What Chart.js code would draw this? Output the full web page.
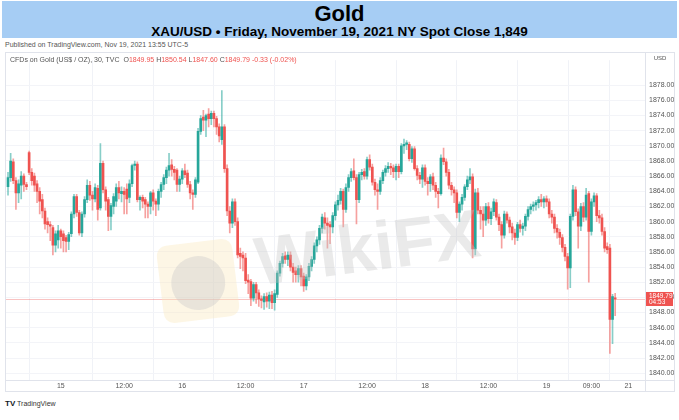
<!DOCTYPE html>
<html><head><meta charset="utf-8">
<script src="https://cdn.jsdelivr.net/npm/chart.js@4.4.0/dist/chart.umd.min.js"></script>
<style>
html,body{margin:0;padding:0;background:#fff;width:679px;height:420px;overflow:hidden;font-family:"Liberation Sans Narrow","Liberation Sans",Arial,sans-serif;}
#hdr{position:absolute;left:2px;top:1px;width:675px;height:37px;background:#a6cdf4;}
#t1{position:absolute;left:0;width:100%;top:1px;text-align:center;font-weight:bold;font-size:22px;line-height:24px;color:#000;}
#t2{position:absolute;left:0;width:100%;top:23px;text-align:center;font-weight:bold;font-size:13.5px;line-height:15px;color:#000;}
#pub{position:absolute;left:5px;top:41px;font-size:7px;color:#555;white-space:nowrap;}
#leg{position:absolute;left:10px;top:56px;font-size:7px;color:#555;white-space:nowrap;z-index:2;}
#leg .r{color:#ef5350}
#wrap{position:absolute;left:5px;top:52px;width:670px;height:340px;}
#tv{position:absolute;left:5px;top:399px;font-size:7px;color:#333;white-space:nowrap;}
#tv b{font-size:8px;color:#131722;font-family:"Liberation Sans",Arial,sans-serif;}
</style></head>
<body>
<div id="hdr"><div id="t1">Gold</div><div id="t2">XAU/USD • Friday, November 19, 2021 NY Spot Close 1,849</div></div>
<div id="pub">Published on TradingView.com, Nov 19, 2021 13:55 UTC-5</div>
<div id="wrap"><canvas id="c" width="670" height="340"></canvas></div>
<div id="leg">CFDs on Gold (US$ / OZ), 30, TVC &nbsp;O<span class="r">1849.95</span> H<span class="r">1850.54</span> L<span class="r">1847.60</span> C<span class="r">1849.79</span> <span class="r">-0.33 (-0.02%)</span></div>
<div id="tv"><b>TV</b> TradingView</div>
<script>
const opens = [
1864.6,1865.8,1867.9,1865.4,1863.8,1864.8,1866.0,1864.9,1869.1,1866.5,
1866.0,1865.0,1864.0,1862.9,1861.4,1860.0,1859.6,1859.2,1856.9,1857.6,
1858.8,1858.4,1857.9,1857.4,1858.4,1861.0,1863.3,1861.2,1858.5,1861.0,
1862.9,1864.8,1863.5,1863.0,1864.4,1861.8,1867.7,1864.2,1862.9,1860.7,
1862.0,1862.7,1864.5,1863.7,1864.0,1864.3,1863.2,1865.0,1867.4,1867.6,
1862.9,1863.2,1862.9,1862.3,1862.0,1863.8,1862.7,1862.3,1864.0,1864.9,
1865.8,1866.8,1867.5,1866.9,1866.8,1864.9,1865.6,1866.7,1866.4,1864.9,
1863.8,1863.6,1865.2,1871.9,1873.8,1873.4,1874.2,1873.6,1874.3,1873.6,
1872.5,1870.8,1872.5,1867.0,1861.4,1859.8,1862.6,1860.0,1855.8,1855.6,
1855.2,1852.3,1852.1,1849.9,1851.7,1850.6,1849.8,1849.4,1850.1,1849.5,
1850.3,1849.3,1850.4,1853.2,1854.5,1855.5,1855.0,1855.6,1854.0,1853.5,
1853.0,1853.8,1852.8,1851.5,1852.7,1854.1,1855.0,1856.8,1857.6,1859.1,
1860.5,1859.8,1859.6,1859.3,1860.8,1862.2,1862.8,1864.0,1861.6,1864.5,
1865.8,1866.7,1865.8,1862.9,1866.2,1866.6,1866.0,1868.2,1867.2,1865.2,
1864.2,1864.0,1865.4,1866.5,1867.0,1867.3,1867.1,1866.6,1867.3,1866.6,
1870.0,1870.2,1870.2,1868.3,1869.6,1867.0,1866.1,1865.6,1867.1,1865.3,
1865.0,1865.9,1864.8,1864.0,1863.7,1868.4,1867.9,1866.5,1864.8,1864.2,
1863.8,1861.2,1862.3,1863.2,1864.6,1865.5,1865.9,1856.4,1863.8,1861.5,
1861.0,1860.2,1862.0,1860.4,1861.3,1862.5,1860.6,1859.6,1858.2,1861.0,
1860.2,1859.3,1858.5,1857.9,1859.6,1859.1,1859.4,1860.7,1861.6,1862.0,
1862.2,1862.5,1862.9,1862.6,1863.0,1862.6,1861.0,1860.6,1859.1,1858.6,
1857.9,1856.6,1855.4,1853.9,1860.7,1864.2,1861.3,1859.4,1862.0,1860.6,
1863.7,1858.7,1862.6,1863.4,1860.8,1860.5,1858.7,1856.7,1856.5,1847.1,1849.95];
const highs = [
1866.5,1869.0,1868.3,1865.8,1865.5,1866.6,1866.3,1865.2,1869.3,1867.0,
1866.4,1865.4,1864.5,1863.6,1861.8,1860.5,1860.0,1859.5,1858.8,1859.5,
1859.0,1858.8,1858.2,1858.6,1861.3,1863.6,1863.6,1861.5,1861.3,1863.3,
1865.5,1865.3,1864.0,1865.0,1864.8,1870.3,1868.0,1864.6,1863.2,1862.4,
1863.7,1865.0,1865.3,1864.6,1864.5,1865.0,1865.5,1867.6,1868.0,1867.9,
1863.4,1863.5,1863.2,1862.6,1864.0,1864.2,1863.0,1864.3,1865.2,1866.2,
1867.2,1869.0,1868.2,1867.3,1867.0,1866.0,1867.0,1867.6,1866.8,1865.3,
1864.2,1865.8,1872.3,1874.0,1874.7,1874.2,1874.9,1874.6,1874.6,1873.9,
1872.9,1877.3,1872.8,1867.5,1862.0,1863.0,1863.0,1860.5,1856.5,1856.0,
1855.8,1853.0,1852.4,1852.0,1852.0,1851.0,1850.2,1850.5,1850.6,1850.7,
1850.8,1851.0,1853.5,1854.8,1855.8,1856.0,1856.0,1856.0,1854.5,1854.0,
1854.2,1854.2,1853.2,1853.0,1854.5,1855.4,1857.2,1858.0,1859.5,1861.0,
1861.2,1860.5,1860.0,1861.2,1862.6,1863.5,1864.4,1864.3,1865.0,1866.2,
1867.0,1868.3,1866.2,1866.5,1866.9,1867.0,1868.5,1868.8,1867.6,1865.6,
1865.0,1865.8,1866.8,1867.4,1867.8,1867.7,1867.5,1867.6,1867.6,1870.3,
1870.9,1870.7,1870.5,1869.9,1869.9,1867.4,1866.5,1867.5,1867.5,1865.8,
1866.2,1866.4,1865.2,1864.4,1868.8,1869.7,1868.3,1866.9,1865.2,1864.6,
1864.2,1862.6,1863.6,1864.9,1866.0,1867.0,1866.3,1864.3,1864.4,1862.0,
1862.0,1862.4,1862.5,1861.8,1863.0,1862.9,1861.0,1860.0,1861.4,1861.3,
1860.6,1859.8,1859.0,1859.9,1860.2,1859.8,1861.0,1862.0,1862.3,1862.6,
1862.8,1863.3,1863.6,1863.3,1863.4,1863.0,1861.5,1861.0,1859.6,1859.0,
1858.3,1857.0,1855.8,1861.0,1864.8,1864.6,1861.7,1862.4,1862.5,1864.4,
1864.0,1863.0,1863.8,1863.7,1861.5,1861.0,1859.2,1857.2,1857.0,1850.4,1850.54];
const lows = [
1863.5,1865.3,1865.0,1861.6,1862.5,1863.0,1864.0,1864.2,1866.2,1864.8,
1864.0,1862.5,1861.0,1860.5,1859.0,1858.5,1857.5,1855.6,1856.0,1856.5,
1856.5,1856.0,1856.0,1856.3,1858.0,1860.5,1860.7,1858.2,1858.0,1860.6,
1862.5,1862.8,1861.5,1862.6,1860.2,1861.5,1863.8,1861.5,1858.8,1858.9,
1861.0,1862.0,1863.0,1862.6,1861.0,1861.0,1862.5,1864.6,1866.8,1862.6,
1861.5,1861.8,1860.5,1860.5,1861.0,1861.5,1860.8,1861.5,1863.2,1864.2,
1865.0,1866.0,1866.0,1865.5,1864.0,1864.0,1865.0,1865.8,1864.5,1863.0,
1861.6,1863.2,1865.0,1871.5,1872.0,1871.2,1872.5,1872.8,1872.5,1871.5,
1870.5,1870.2,1866.5,1860.8,1858.5,1859.2,1859.5,1855.2,1853.8,1853.5,
1851.8,1850.5,1848.9,1849.5,1849.2,1848.8,1848.6,1848.4,1848.7,1848.5,
1848.5,1848.3,1850.0,1852.8,1854.0,1854.5,1854.2,1853.5,1852.0,1852.0,
1852.0,1851.5,1850.8,1851.0,1852.2,1853.5,1854.5,1856.0,1857.0,1858.5,
1859.0,1856.5,1857.1,1858.5,1860.2,1861.5,1862.3,1859.3,1861.2,1864.0,
1865.3,1865.5,1859.7,1862.5,1865.5,1865.6,1865.6,1866.8,1864.8,1863.5,
1861.6,1863.6,1865.0,1866.0,1866.5,1866.2,1865.8,1865.5,1865.8,1866.3,
1869.0,1869.5,1868.0,1867.8,1866.8,1865.5,1865.0,1864.5,1864.8,1863.5,
1864.0,1864.2,1863.2,1861.8,1863.5,1867.5,1866.0,1864.3,1863.5,1862.5,
1860.5,1860.0,1861.5,1862.8,1864.2,1865.0,1855.2,1855.6,1861.0,1859.0,
1858.0,1859.5,1859.8,1859.6,1860.8,1860.2,1858.8,1856.5,1857.8,1859.8,
1858.5,1857.6,1857.0,1857.5,1858.6,1858.2,1858.8,1860.2,1861.0,1861.4,
1861.5,1861.8,1862.0,1861.8,1862.0,1860.5,1859.8,1858.5,1857.8,1857.0,
1856.0,1854.8,1851.1,1851.3,1860.2,1860.8,1856.5,1858.8,1860.0,1860.2,
1852.0,1858.2,1862.0,1860.0,1859.8,1858.2,1856.0,1855.8,1842.6,1843.9,1847.60];
const closes = [
1865.8,1868.0,1865.4,1863.8,1865.0,1866.0,1864.9,1864.6,1866.5,1865.4,
1864.8,1864.0,1862.7,1861.4,1859.7,1859.6,1859.4,1856.9,1858.4,1858.8,
1858.0,1857.5,1857.4,1858.3,1861.0,1863.3,1861.2,1858.5,1861.0,1862.9,
1864.8,1863.5,1863.0,1864.5,1861.6,1867.7,1864.2,1862.7,1860.7,1862.1,
1863.3,1864.5,1863.8,1864.0,1863.6,1863.0,1865.0,1867.4,1867.6,1862.9,
1863.2,1862.7,1862.3,1862.0,1863.8,1862.7,1862.3,1864.0,1864.9,1865.8,
1866.8,1867.4,1866.9,1866.5,1864.9,1865.6,1866.7,1866.2,1864.9,1863.8,
1863.6,1865.5,1871.9,1873.6,1873.4,1874.0,1873.6,1874.3,1873.6,1872.5,
1871.3,1872.5,1867.0,1861.4,1859.8,1862.6,1860.0,1855.6,1855.4,1855.2,
1852.2,1852.0,1849.9,1851.7,1850.6,1849.8,1849.6,1850.1,1849.5,1850.3,
1849.3,1850.5,1853.2,1854.5,1855.4,1855.0,1855.6,1854.0,1853.3,1853.0,
1853.8,1852.7,1851.5,1852.7,1854.1,1855.0,1856.8,1857.6,1859.1,1860.6,
1859.8,1859.5,1859.3,1860.8,1862.2,1862.8,1864.0,1861.6,1864.5,1865.8,
1866.6,1865.8,1862.9,1866.2,1866.5,1866.0,1868.2,1867.2,1865.2,1864.2,
1864.0,1865.4,1866.5,1867.0,1867.3,1867.1,1866.6,1867.3,1866.6,1870.0,
1870.2,1870.4,1868.3,1869.6,1867.0,1866.1,1865.6,1867.1,1865.3,1865.0,
1865.9,1864.8,1864.0,1863.7,1868.4,1867.9,1866.5,1864.8,1864.2,1863.8,
1861.2,1862.3,1863.2,1864.6,1865.5,1865.9,1856.4,1863.8,1861.5,1861.0,
1860.2,1862.0,1860.4,1861.3,1862.6,1860.6,1859.6,1858.2,1861.0,1860.2,
1859.3,1858.5,1857.9,1859.6,1859.1,1859.4,1860.7,1861.6,1862.0,1862.2,
1862.5,1862.9,1862.6,1863.0,1862.6,1861.0,1860.6,1859.1,1858.6,1857.9,
1856.6,1855.4,1853.9,1860.7,1864.2,1861.3,1859.4,1862.0,1860.6,1863.5,
1858.7,1862.6,1863.4,1860.8,1860.5,1858.7,1856.5,1856.3,1847.1,1850.1,1849.79];

const timeTickIdx    = [20, 44, 66, 90, 112, 136, 158, 182, 204, 221, 235];
const timeTickLabels = ['15','12:00','16','12:00','17','12:00','18','12:00','19','09:00','21'];
const priceTicks = [1840,1842,1844,1846,1848,1850,1852,1854,1856,1858,1860,1862,1864,1866,1868,1870,1872,1874,1876,1878];
const lastPrice = 1849.79;
const lastPriceLabel = '1849.79';
const countdownLabel = '04:53';

const UP = '#26a69a', DN = '#ef5350';
const UP_WICK = 'rgba(38,166,154,0.55)', DN_WICK = 'rgba(239,83,80,0.55)';
const FONT = '"Liberation Sans Narrow","Liberation Sans",Arial,sans-serif';
const idx = closes.map((_, i) => i);
const isUp = idx.map(i => closes[i] >= opens[i]);
const bodyColors = isUp.map(u => u ? UP : DN);
const wickColors = isUp.map(u => u ? UP_WICK : DN_WICK);

const overlay = {
  id: 'overlay',
  beforeDatasetsDraw(chart) {
    const {ctx, chartArea: a, scales: {y}} = chart;
    const py = Math.round(y.getPixelForValue(lastPrice)) + 0.5;
    ctx.save();
    ctx.strokeStyle = 'rgba(239,83,80,0.35)';
    ctx.lineWidth = 1;
    ctx.beginPath(); ctx.moveTo(a.left, py); ctx.lineTo(a.right, py); ctx.stroke();
    ctx.restore();
  },
  afterDatasetsDraw(chart) {
    const {ctx} = chart;
    ctx.save();
    ctx.translate(193, 229);
    ctx.rotate(-0.12);
    ctx.fillStyle = 'rgba(250,232,190,0.40)';
    const w = 76, h = 78, r = 12;
    ctx.beginPath();
    ctx.moveTo(-w/2 + r, -h/2); ctx.lineTo(w/2 - r, -h/2); ctx.quadraticCurveTo(w/2, -h/2, w/2, -h/2 + r);
    ctx.lineTo(w/2, h/2 - r); ctx.quadraticCurveTo(w/2, h/2, w/2 - r, h/2);
    ctx.lineTo(-w/2 + r, h/2); ctx.quadraticCurveTo(-w/2, h/2, -w/2, h/2 - r);
    ctx.lineTo(-w/2, -h/2 + r); ctx.quadraticCurveTo(-w/2, -h/2, -w/2 + r, -h/2);
    ctx.fill();
    ctx.fillStyle = 'rgba(200,200,200,0.38)';
    ctx.beginPath(); ctx.arc(0, 2, 27, 0, Math.PI * 2); ctx.fill();
    ctx.restore();
    ctx.save();
    ctx.translate(363, 200);
    ctx.rotate(-0.13);
    ctx.font = 'bold 68px "Liberation Sans",Arial,sans-serif';
    ctx.fillStyle = 'rgba(195,195,195,0.35)';
    ctx.textAlign = 'center'; ctx.textBaseline = 'middle';
    ctx.fillText('WikiFX', 0, 0);
    ctx.restore();
  },
  afterDraw(chart) {
    const {ctx, chartArea: a, scales: {y}, width, height} = chart;
    ctx.save();
    ctx.strokeStyle = '#e0e3eb';
    ctx.lineWidth = 1;
    ctx.strokeRect(0.5, 0.5, width - 1, height - 1);
    ctx.beginPath();
    ctx.moveTo(a.right + 0.5, 0); ctx.lineTo(a.right + 0.5, height);
    ctx.moveTo(0, a.bottom + 0.5); ctx.lineTo(width, a.bottom + 0.5);
    ctx.stroke();
    ctx.font = '6px ' + FONT;
    ctx.fillStyle = '#555';
    ctx.textAlign = 'center'; ctx.textBaseline = 'middle';
    ctx.fillText('USD', a.right + 15, 6);
    const py = y.getPixelForValue(lastPrice);
    ctx.fillStyle = '#ef5350';
    ctx.fillRect(a.right + 1, py - 7, 27, 14);
    ctx.fillStyle = '#fff';
    ctx.font = '6.5px ' + FONT;
    ctx.textAlign = 'left';
    ctx.fillText(lastPriceLabel, a.right + 4, py - 3);
    ctx.fillText(countdownLabel, a.right + 4, py + 3.5);
    ctx.restore();
  }
};

new Chart(document.getElementById('c'), {
  type: 'bar',
  data: {
    datasets: [
      { label: 'body', data: idx.map(i => ({x: i, y: [opens[i], closes[i]]})),
        backgroundColor: bodyColors, barThickness: 2, minBarLength: 1, grouped: false, borderWidth: 0 },
      { label: 'wick', data: idx.map(i => ({x: i, y: [lows[i], highs[i]]})),
        backgroundColor: wickColors, barThickness: 1, grouped: false, borderWidth: 0 }
    ]
  },
  options: {
    responsive: false, animation: false, events: [],
    devicePixelRatio: 1,
    layout: { padding: 0 },
    plugins: { legend: { display: false }, tooltip: { enabled: false } },
    scales: {
      x: {
        type: 'linear', min: -1.14, max: 241.3, offset: false,
        afterBuildTicks: ax => { ax.ticks = timeTickIdx.map(v => ({value: v})); },
        afterFit: ax => { ax.height = 12; },
        ticks: { autoSkip: false, maxRotation: 0, padding: 2, color: '#555',
          font: { size: 7, family: FONT },
          callback: v => { const k = timeTickIdx.indexOf(v); return k >= 0 ? timeTickLabels[k] : ''; } },
        grid: { color: '#f0f2f7', drawTicks: false },
        border: { display: false }
      },
      y: {
        type: 'linear', position: 'right', min: 1839.1, max: 1881.3,
        afterBuildTicks: ax => { ax.ticks = priceTicks.map(v => ({value: v})); },
        afterFit: ax => { ax.width = 30; },
        ticks: { padding: 4, color: '#555', font: { size: 7, family: FONT },
          callback: v => Number(v).toFixed(2) },
        grid: { color: '#f3f4f8', drawTicks: false },
        border: { display: false }
      }
    }
  },
  plugins: [overlay]
});
</script>
</body></html>
